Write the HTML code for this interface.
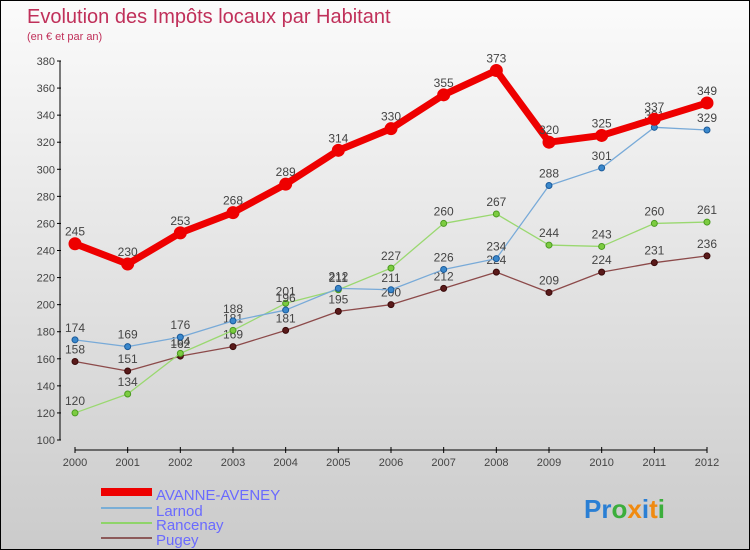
<!DOCTYPE html>
<html><head><meta charset="utf-8"><style>
body{margin:0}
#wrap{position:relative;width:748px;height:548px;border:1px solid #000;background:linear-gradient(#fbfbfb,#cbcbcb);font-family:"Liberation Sans",sans-serif;overflow:hidden}
svg text{font-family:"Liberation Sans",sans-serif}
</style></head><body>
<div id="wrap">
<svg id="c" width="748" height="548">
<text x="26" y="22" font-size="20" fill="#c0305a">Evolution des Impôts locaux par Habitant</text>
<text x="26" y="39" font-size="11" fill="#c0305a">(en € et par an)</text>
<g id="axes"></g><g id="series"></g>
<g>
<rect x="100" y="487" width="51" height="8" fill="#e00"/>
<text x="155" y="499" font-size="15" fill="#6a6aff">AVANNE-AVENEY</text>
<line x1="100" y1="507" x2="151" y2="507" stroke="#7aaed6" stroke-width="2"/>
<text x="155" y="515" font-size="15" fill="#6a6aff">Larnod</text>
<line x1="100" y1="522" x2="151" y2="522" stroke="#8fd46a" stroke-width="2"/>
<text x="155" y="529" font-size="15" fill="#6a6aff">Rancenay</text>
<line x1="100" y1="537" x2="151" y2="537" stroke="#8c5a5a" stroke-width="2"/>
<text x="155" y="544" font-size="15" fill="#6a6aff">Pugey</text>
</g>
<text x="583" y="517" font-size="26" font-weight="bold"><tspan fill="#2a7fd4">Pr</tspan><tspan fill="#3cae3c">o</tspan><tspan fill="#f08a10">x</tspan><tspan fill="#2a7fd4">i</tspan><tspan fill="#f08a10">t</tspan><tspan fill="#3cae3c">i</tspan></text>
</svg></div>
<script>
const years=[2000,2001,2002,2003,2004,2005,2006,2007,2008,2009,2010,2011,2012];
const avanne=[245,230,253,268,289,314,330,355,373,320,325,337,349];
const larnod=[174,169,176,188,196,212,211,226,234,288,301,331,329];
const rancenay=[120,134,164,181,201,211,227,260,267,244,243,260,261];
const pugey=[158,151,162,169,181,195,200,212,224,209,224,231,236];
const yTicks=[100,120,140,160,180,200,220,240,260,280,300,320,340,360,380];
const NS="http://www.w3.org/2000/svg";
const X=i=>74+i*(632/12);
const Y=v=>439-(v-100)*(379/280);
function mk(t,a,p){const e=document.createElementNS(NS,t);for(const k in a)e.setAttribute(k,a[k]);p.appendChild(e);return e;}
const ax=document.getElementById('axes');
mk('line',{x1:59,y1:Y(380),x2:59,y2:Y(100),stroke:'#000','stroke-width':1},ax);
mk('line',{x1:74,y1:449,x2:706,y2:449,stroke:'#000','stroke-width':1},ax);
yTicks.forEach(v=>{
 mk('line',{x1:56,y1:Y(v),x2:60,y2:Y(v),stroke:'#000'},ax);
 mk('line',{x1:700,y1:Y(v),x2:748,y2:Y(v),stroke:'#fff','stroke-width':0},ax);
 const t=mk('text',{x:54,y:Y(v)+4,'font-size':11,fill:'#444','text-anchor':'end'},ax);t.textContent=v;
 
 
});
years.forEach((yr,i)=>{
 mk('line',{x1:X(i),y1:446,x2:X(i),y2:452,stroke:'#000'},ax);
 const t=mk('text',{x:X(i),y:465,'font-size':11,fill:'#444','text-anchor':'middle'},ax);t.textContent=yr;
 
 
});
const sg=document.getElementById('series');
function draw(name,vals,color,w,r,dot,dotStroke){
 const g=mk('g',{},sg);
 
 
 mk('polyline',{points:vals.map((v,i)=>X(i)+','+Y(v)).join(' '),fill:'none',stroke:color,'stroke-width':w,'stroke-linejoin':'round'},g);
 vals.forEach((v,i)=>{
  const c=mk('circle',{cx:X(i),cy:Y(v),r:r,fill:dot,stroke:dotStroke,'stroke-width':1},g);
  
  
  const t=mk('text',{x:X(i),y:Y(v)-8,'font-size':12,fill:'#444','text-anchor':'middle'},g);t.textContent=v;
  
  
 });
}
draw('pugey',pugey,'#8c4a4a',1.3,3,'#5a1a1a','#3a0a0a');
draw('rancenay',rancenay,'#9ad870',1.3,3,'#7ccc40','#4a9a20');
draw('larnod',larnod,'#78aad8',1.3,3,'#3a88cc','#1a5a9a');
draw('avanne',avanne,'#ee0000',7,6,'#ee0000','#ee0000');
</script>
</body></html>
